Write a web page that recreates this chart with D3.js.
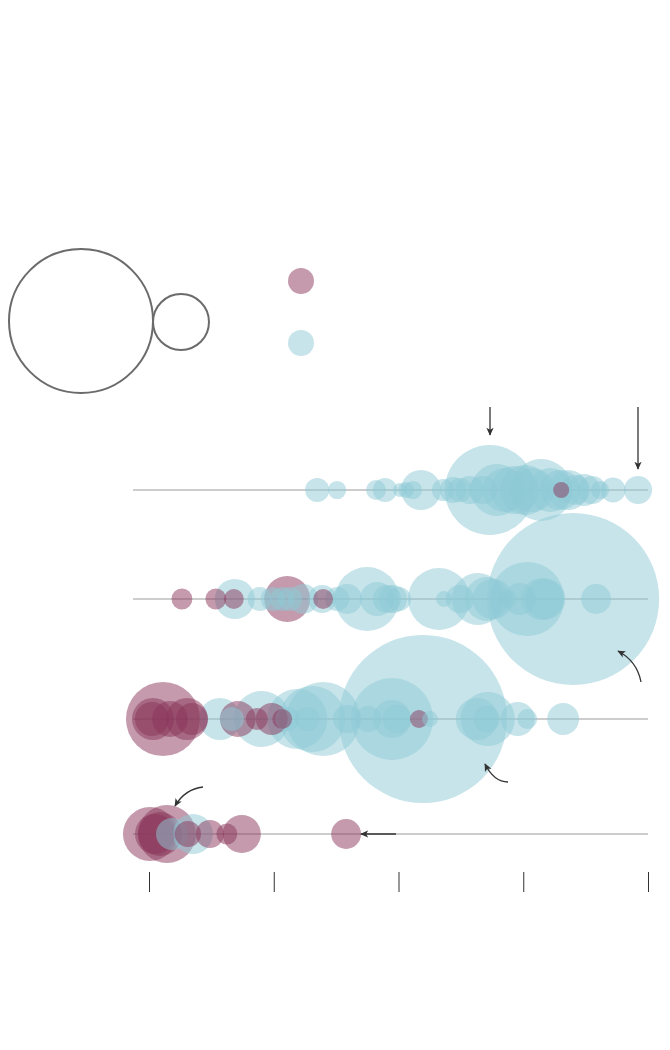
<!DOCTYPE html>
<html>
<head>
<meta charset="utf-8">
<script src="https://cdn.jsdelivr.net/npm/d3@7"></script>
<style>
  html, body { margin: 0; padding: 0; background: #fff; }
  svg { display: block; }
</style>
</head>
<body>
<svg id="chart" width="670" height="1050"></svg>
<script>
// ---- data ----
const categories = ["row1", "row2", "row3", "row4"];
const xTicks = [0, 25, 50, 75, 100];
const legendSizes = [1000, 151];

// [x, size] pairs
const row1Blue = [[33.7,28],[37.7,16],[45.5,19],[47.3,28],[50.3,9.5],[51.5,12],[52.9,16],[54.5,77],[58.9,23],[60.9,33],[62.3,28],[64.3,38],[66.9,38],[68.3,390],[69.7,130],[71.3,93],[73.3,111],[75.4,120],[76.8,93],[78.6,185],[80.4,93],[82.4,77],[84.0,77],[85.4,43],[87.2,49],[88.8,38],[90.4,16],[93.0,30],[98.0,38]];
const row1Mauve = [[82.6,12.4]];
const row2Blue = [[17.2,77],[22.2,28],[24.8,28],[26.7,28],[28.3,28],[30.9,43],[34.7,38],[37.7,28],[39.7,43],[43.7,198],[45.7,56],[47.7,38],[48.9,38],[50.1,28],[58.1,185],[59.1,12],[62.3,38],[65.9,130],[67.7,93],[68.9,77],[71.9,15.6],[74.3,49],[75.8,264],[78.8,85],[79.4,77],[85.0,1427],[89.6,43]];
const row2Mauve = [[6.6,21],[13.4,21],[17.0,19],[27.7,102],[34.9,19]];
const row3Blue = [[14.2,85],[16.6,28],[22.6,151],[27.7,28],[29.7,174],[31.7,28],[32.7,210],[34.9,264],[39.7,38],[43.9,33],[48.7,324],[48.7,70],[49.7,38],[54.9,1362],[56.3,12],[65.7,85],[67.9,141],[67.7,33],[73.9,56],[75.8,19],[83.0,49]];
const row3Mauve = [[2.8,264],[0.8,85],[0.6,56],[4.2,62],[7.6,85],[8.6,49],[17.8,62],[21.6,23],[24.6,49],[26.7,19],[54.1,15.6]];
const row4Blue = [[4.6,49],[8.8,77]];
const row4Mauve = [[0.2,141],[3.6,162],[1.2,77],[2.2,93],[7.8,33],[12.2,38],[15.6,21],[18.6,70],[39.5,43]];

const blueSeries = [row1Blue, row2Blue, row3Blue, row4Blue];
const mauveSeries = [row1Mauve, row2Mauve, row3Mauve, row4Mauve];

// ---- drawing ----
const svg = d3.select("#chart");
const MAUVE = "#893559", BLUE = "#8dc9d5";

const x = d3.scaleLinear().domain([0, 100]).range([149, 648]);
const y = d3.scaleOrdinal().domain(categories).range([490, 599, 719, 834]);
const r = d3.scaleSqrt().domain([0, 1000]).range([0, 72]);

// defs arrow
svg.append("defs").append("marker")
  .attr("id", "ah").attr("viewBox", "0 0 10 10")
  .attr("refX", 9).attr("refY", 5)
  .attr("markerWidth", 8).attr("markerHeight", 8)
  .attr("markerUnits", "userSpaceOnUse")
  .attr("orient", "auto")
  .append("path").attr("d", "M0,0.5 L10,5 L0,9.5 L2.5,5 Z").attr("fill", "#333");

// legend
const leg = svg.append("g");
leg.append("circle").attr("cx", 81).attr("cy", 321).attr("r", r(legendSizes[0]))
  .attr("fill", "none").attr("stroke", "#6b6b6b").attr("stroke-width", 2);
leg.append("circle").attr("cx", 181).attr("cy", 322).attr("r", r(legendSizes[1]))
  .attr("fill", "none").attr("stroke", "#6b6b6b").attr("stroke-width", 2);
leg.append("circle").attr("cx", 301).attr("cy", 281).attr("r", 13)
  .attr("fill", MAUVE).attr("fill-opacity", 0.5);
leg.append("circle").attr("cx", 301).attr("cy", 343).attr("r", 13)
  .attr("fill", BLUE).attr("fill-opacity", 0.5);

// row lines
svg.append("g").selectAll("line").data(categories).join("line")
  .attr("x1", x(0) - 16).attr("x2", x(100))
  .attr("y1", d => y(d)).attr("y2", d => y(d))
  .attr("stroke", "#bdbdbd").attr("stroke-width", 1.5);

// bubbles
const all = [];
categories.forEach((c, i) => {
  blueSeries[i].forEach(d => all.push({cat: c, x: d[0], s: d[1], color: BLUE}));
  mauveSeries[i].forEach(d => all.push({cat: c, x: d[0], s: d[1], color: MAUVE}));
});
all.sort((a, b) => b.s - a.s);
svg.append("g").selectAll("circle").data(all).join("circle")
  .attr("cx", d => x(d.x)).attr("cy", d => y(d.cat)).attr("r", d => r(d.s))
  .attr("fill", d => d.color).attr("fill-opacity", 0.5);

// axis ticks
const axis = d3.axisBottom(x).tickValues(xTicks).tickSize(20).tickFormat(() => "");
const ag = svg.append("g").attr("transform", "translate(0,872)").call(axis);
ag.select(".domain").remove();
ag.selectAll(".tick line").attr("stroke", "#333").attr("stroke-width", 1);

// annotation arrows
const arrows = [
  "M490,407 L490,435",
  "M638,407 L638,469",
  "M641,682 Q637,661 618,651",
  "M508,782 Q494,782 485,764",
  "M203,787 Q185,789 175,806",
  "M396,834 L361,834"
];
svg.append("g").selectAll("path").data(arrows).join("path")
  .attr("d", d => d).attr("fill", "none").attr("stroke", "#333")
  .attr("stroke-width", 1.3).attr("marker-end", "url(#ah)");
</script>
</body>
</html>
